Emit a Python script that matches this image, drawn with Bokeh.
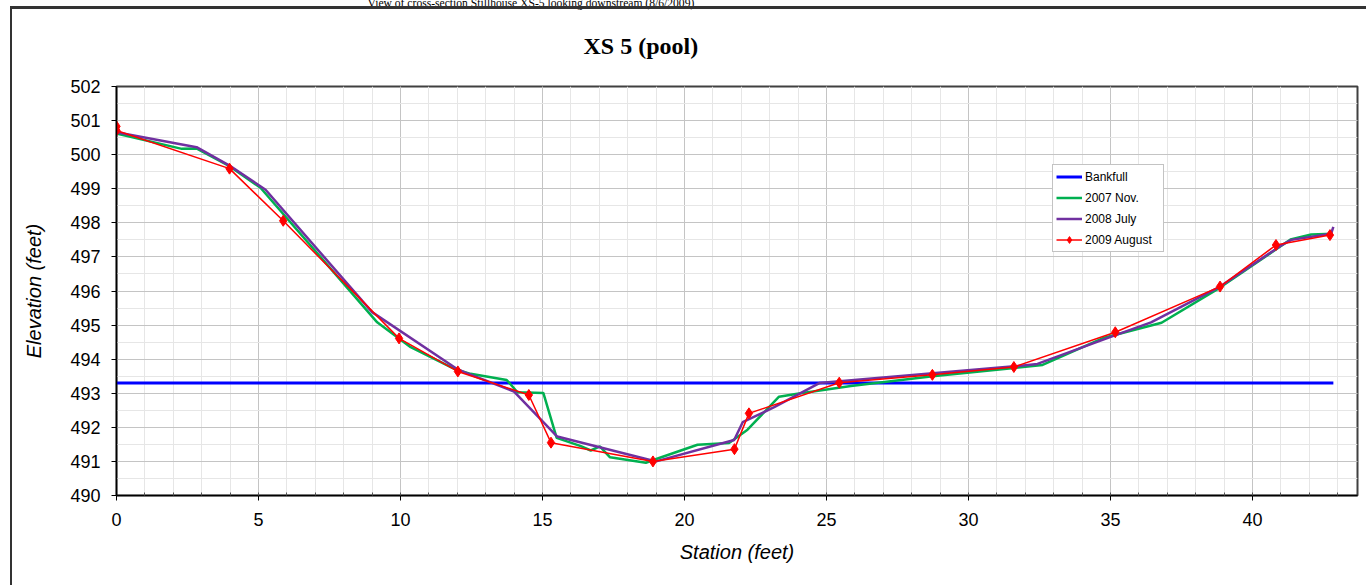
from bokeh.plotting import figure
from bokeh.models import (Range1d, SingleIntervalTicker, Title, Legend, LegendItem,
                          InlineStyleSheet)
from bokeh.embed import file_html
from bokeh.resources import INLINE

# Cross-section survey data: station (feet) vs elevation (feet)
bankfull_x = [0, 42.85]
bankfull_y = [493.3, 493.3]

nov2007_x = [0, 2.3, 2.83, 3.98, 5.07, 9.18, 10.36, 11.88, 12.47, 13.74, 14.12, 15.03,
             15.5, 16.35, 16.7, 17.02, 17.38, 18.64, 18.93, 20.46, 21.57, 22.22, 23.33,
             23.92, 25.86, 28.74, 31.61, 32.61, 34.78, 36.8, 38.86, 41.34, 42.07, 42.83]
nov2007_y = [500.62, 500.17, 500.18, 499.66, 499.03, 495.08, 494.35, 493.72, 493.57, 493.39,
             493.03, 493.01, 491.69, 491.45, 491.32, 491.44, 491.12, 490.96, 491.05, 491.49,
             491.54, 491.93, 492.9, 492.98, 493.21, 493.5, 493.74, 493.83, 494.63, 495.07,
             496.1, 497.51, 497.66, 497.68]

jul2008_x = [0, 2.82, 3.98, 5.25, 9.0, 11.94, 12.24, 14.0, 15.52, 19.0, 21.75, 22.05, 23.16,
             24.75, 31.61, 32.43, 35.13, 36.43, 38.86, 41.0, 41.37, 42.77, 42.85]
jul2008_y = [500.66, 500.22, 499.68, 498.97, 495.38, 493.74, 493.62, 493.05, 491.73, 491.0,
             491.63, 492.15, 492.59, 493.3, 493.79, 493.86, 494.69, 495.08, 496.13, 497.33,
             497.5, 497.68, 497.88]

aug2009_x = [0, 0, 3.98, 5.87, 9.95, 12.02, 14.52, 15.30, 18.89, 21.76, 22.27, 25.45, 28.73,
             31.6, 35.17, 38.86, 40.83, 42.73]
aug2009_y = [500.83, 500.71, 499.59, 498.06, 494.61, 493.64, 492.95, 491.55, 491.0, 491.36,
             492.41, 493.31, 493.54, 493.77, 494.79, 496.13, 497.35, 497.64]

series_names = ["Bankfull", "2007 Nov.", "2008 July", "2009 August"]
chart_title = "XS 5 (pool)"
caption = "View of cross-section Stillhouse XS-5 looking downstream (8/6/2009)"

SANS = "Liberation Sans"
SERIF = "Liberation Serif"

W, H = 1366, 585
FL, FR, FT, FB = 116, 9, 86, 90   # frame borders (px)

p = figure(width=W, height=H, output_backend="svg", toolbar_location=None,
           x_range=Range1d(0, 43.7), y_range=Range1d(490, 502),
           min_border_left=FL, min_border_right=FR, min_border_top=FT, min_border_bottom=FB,
           background_fill_color="white", border_fill_color="white")

# axes
p.xaxis.ticker = SingleIntervalTicker(interval=5, num_minor_ticks=5)
p.yaxis.ticker = SingleIntervalTicker(interval=1, num_minor_ticks=2)
for ax in (p.xaxis[0], p.yaxis[0]):
    ax.axis_line_color = "black"
    ax.axis_line_width = 1.5
    ax.major_tick_line_color = "black"
    ax.major_tick_out = 5
    ax.major_tick_in = 0
    ax.major_label_text_font = SANS
    ax.major_label_text_font_size = "18px"
    ax.major_label_text_color = "black"
    ax.axis_label_text_font = SANS
    ax.axis_label_text_font_size = "20px"
    ax.axis_label_text_font_style = "italic"
    ax.axis_label_text_color = "black"
p.xaxis.minor_tick_line_color = "#555555"
p.xaxis.minor_tick_in = 3
p.xaxis.minor_tick_out = 0
p.yaxis.minor_tick_line_color = None
p.xaxis.major_label_standoff = 12
p.yaxis.major_label_standoff = 11
p.xaxis.axis_label = "Station (feet)"
p.yaxis.axis_label = "Elevation (feet)"
p.xaxis.axis_label_standoff = 12
p.yaxis.axis_label_standoff = 22

# grid
p.xgrid.grid_line_color = "#c4c4c4"
p.ygrid.grid_line_color = "#c4c4c4"
p.xgrid.minor_grid_line_color = "#e6e6e6"
p.ygrid.minor_grid_line_color = "#e6e6e6"

p.outline_line_color = "#404040"
p.outline_line_width = 2

# series
r_bank = p.line(bankfull_x, bankfull_y, line_color="#0000ff", line_width=3)
r_nov = p.line(nov2007_x, nov2007_y, line_color="#00b050", line_width=2.5)
r_jul = p.line(jul2008_x, jul2008_y, line_color="#7030a0", line_width=2.5)
r_aug = p.line(aug2009_x, aug2009_y, line_color="#ff0000", line_width=1.5)
r_aug_pts = p.scatter(aug2009_x, aug2009_y, marker="diamond", size=11,
                      fill_color="#ff0000", line_color="#ff0000")

legend = Legend(items=[
    LegendItem(label=series_names[0], renderers=[r_bank]),
    LegendItem(label=series_names[1], renderers=[r_nov]),
    LegendItem(label=series_names[2], renderers=[r_jul]),
    LegendItem(label=series_names[3], renderers=[r_aug, r_aug_pts]),
], location=(1052 - FL, (H - FB) - 252), orientation="vertical")
legend.label_text_font = SANS
legend.label_text_font_size = "12px"
legend.label_text_color = "black"
legend.glyph_width = 26
legend.glyph_height = 17
legend.label_height = 17
legend.label_width = 75
legend.label_standoff = 3
legend.spacing = 4
legend.padding = 3
legend.margin = 0
legend.border_line_color = "#888888"
legend.border_line_width = 1
legend.background_fill_color = "white"
legend.background_fill_alpha = 1
p.add_layout(legend, "center")

# top panel: photo caption at the very top, chart title below it
p.title = Title(text=caption, text_font=SERIF, text_font_size="11.6px",
                text_font_style="normal", text_color="black", align="left",
                offset=251, standoff=-13, vertical_align="top")
p.add_layout(Title(text=chart_title, text_font=SERIF, text_font_size="24px",
                   text_font_style="bold", text_color="black", align="left",
                   offset=467, standoff=53, vertical_align="middle"), "above")

# chart area border: left and top edges
p.stylesheets = [InlineStyleSheet(css="""
:host::after {
  content: "";
  position: absolute;
  left: 10px; top: 6px; right: 0; bottom: 0;
  border-left: 2px solid #333333;
  border-top: 3px solid #333333;
  pointer-events: none;
  z-index: 100;
}
""")]

open("out.html", "w").write(file_html(p, INLINE))
